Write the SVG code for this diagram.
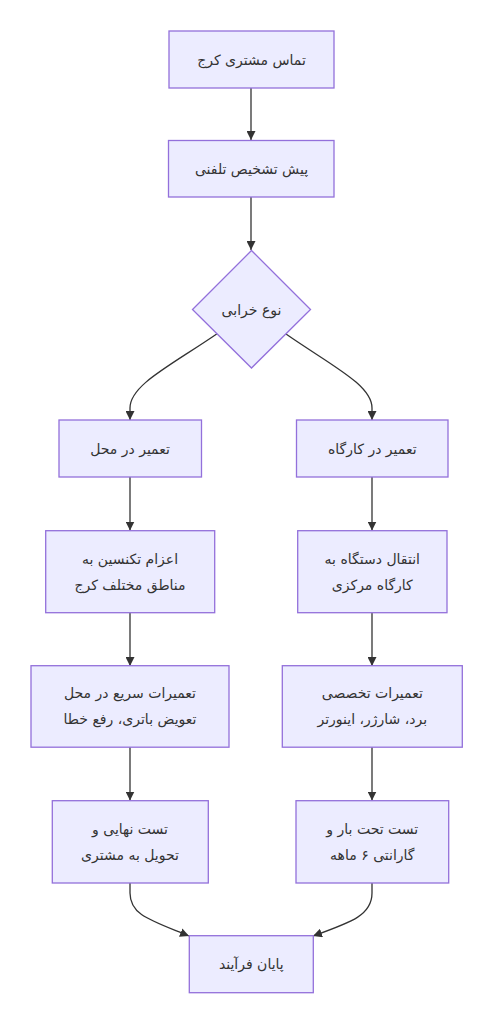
<svg xmlns="http://www.w3.org/2000/svg" width="493" height="1024" viewBox="0 0 493 1024">
<style>
.n{fill:#ECECFF;stroke:#9370DB;stroke-width:1.3}
.t{font-family:"DejaVu Sans","Noto Sans",sans-serif;font-size:14px;fill:#333333;text-anchor:middle;dominant-baseline:central}
.e{fill:none;stroke:#333333;stroke-width:1.3}
</style>
<defs>
<marker id="arr" viewBox="0 0 10 10" refX="10" refY="5" markerUnits="userSpaceOnUse" markerWidth="9" markerHeight="9" orient="auto">
<path d="M0,0 L10,5 L0,10 z" fill="#333333"/>
</marker>
</defs>
<rect width="493" height="1024" fill="#ffffff"/>
<g id="edges">
<path class="e" d="M251,88 L251,140" marker-end="url(#arr)"/>
<path class="e" d="M251,197 L251,250" marker-end="url(#arr)"/>
<path class="e" d="M216.7,334 C170,366 130,385 130,408 L130,420" marker-end="url(#arr)"/>
<path class="e" d="M286,334 C332,366 372,385 372,408 L372,420" marker-end="url(#arr)"/>
<path class="e" d="M130,477 L130,530.5" marker-end="url(#arr)"/>
<path class="e" d="M372,477 L372,530.5" marker-end="url(#arr)"/>
<path class="e" d="M130,613 L130,666" marker-end="url(#arr)"/>
<path class="e" d="M372,613 L372,666" marker-end="url(#arr)"/>
<path class="e" d="M130,747 L130,800.5" marker-end="url(#arr)"/>
<path class="e" d="M372,747 L372,800.5" marker-end="url(#arr)"/>
<path class="e" d="M130,883 L130,893 C130,915 150,920 189,936" marker-end="url(#arr)"/>
<path class="e" d="M372,883 L372,893 C372,915 352,922 313,936" marker-end="url(#arr)"/>
</g>
<g id="n1"><rect class="n" x="169" y="31" width="165" height="57"/><text class="t" x="251.5" y="59.5" direction="rtl">تماس مشتری کرج</text></g>
<g id="n2"><rect class="n" x="168.5" y="140.5" width="165.5" height="56.5"/><text class="t" x="251.5" y="169" direction="rtl">پیش تشخیص تلفنی</text></g>
<g id="n3"><polygon class="n" points="251.5,250.5 310.5,309.5 251.5,368 192.5,309.5"/><text class="t" x="251.5" y="309.5" direction="rtl">نوع خرابی</text></g>
<g id="n4"><rect class="n" x="59" y="420" width="142.5" height="57"/><text class="t" x="130" y="448.5" direction="rtl">تعمیر در محل</text></g>
<g id="n5"><rect class="n" x="296.5" y="420" width="151.5" height="57"/><text class="t" x="372.3" y="448.5" direction="rtl">تعمیر در کارگاه</text></g>
<g id="n6"><rect class="n" x="45.7" y="530.7" width="169" height="82"/><text class="t" x="130" y="558.5" direction="rtl">اعزام تکنسین به</text><text class="t" x="130" y="584.5" direction="rtl">مناطق مختلف کرج</text></g>
<g id="n7"><rect class="n" x="297.7" y="530.7" width="149.3" height="82"/><text class="t" x="372.3" y="558.5" direction="rtl">انتقال دستگاه به</text><text class="t" x="372.3" y="584.5" direction="rtl">کارگاه مرکزی</text></g>
<g id="n8"><rect class="n" x="31" y="665.7" width="198" height="81.5"/><text class="t" x="130" y="693" direction="rtl">تعمیرات سریع در محل</text><text class="t" x="130" y="719" direction="rtl">تعویض باتری، رفع خطا</text></g>
<g id="n9"><rect class="n" x="282.3" y="665.7" width="180" height="81.5"/><text class="t" x="372.3" y="693" direction="rtl">تعمیرات تخصصی</text><text class="t" x="372.3" y="719" direction="rtl">برد، شارژر، اینورتر</text></g>
<g id="n10"><rect class="n" x="52.3" y="800.7" width="156" height="82.3"/><text class="t" x="130" y="828.5" direction="rtl">تست نهایی و</text><text class="t" x="130" y="854.5" direction="rtl">تحویل به مشتری</text></g>
<g id="n11"><rect class="n" x="296" y="800.7" width="152.7" height="82.3"/><text class="t" x="372.3" y="828.5" direction="rtl">تست تحت بار و</text><text class="t" x="372.3" y="854.5" direction="rtl">گارانتی ۶ ماهه</text></g>
<g id="n12"><rect class="n" x="189.3" y="935.7" width="124" height="57"/><text class="t" x="251.3" y="964" direction="rtl">پایان فرآیند</text></g>
</svg>
